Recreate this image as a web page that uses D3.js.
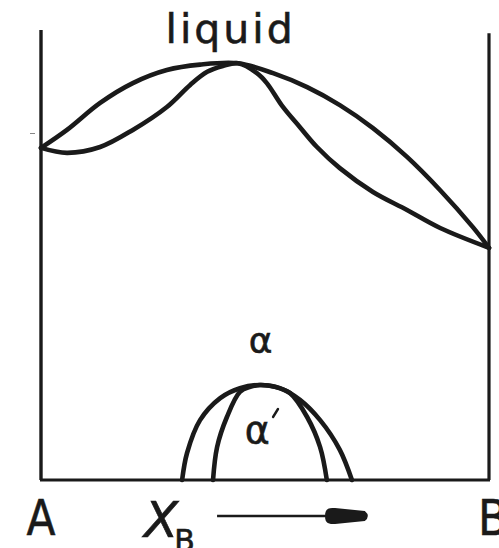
<!DOCTYPE html>
<html>
<head>
<meta charset="utf-8">
<script src="https://cdn.jsdelivr.net/npm/d3@7"></script>
<style>
  html, body { margin: 0; padding: 0; background: #ffffff; }
  svg { display: block; }
  text { font-family: "DejaVu Sans", sans-serif; fill: #1a1a1a; stroke: #1a1a1a; stroke-width: 0.6px; }
</style>
</head>
<body>
<svg id="chart" width="499" height="548"></svg>
<script>
// Binary phase diagram A–B: liquidus/solidus lens with a congruent maximum,
// and an ordering dome (α → α′) at low temperature.

// composition X_B (0 = pure A, 1 = pure B) and temperature (arbitrary units)
const liquidusX = [0.000, 0.058, 0.132, 0.205, 0.281, 0.355, 0.440, 0.518, 0.594, 0.667, 0.741, 0.817, 0.891, 0.964, 1.000];
const liquidusT = [73.8, 77.8, 83.8, 88.2, 91.1, 92.3, 92.6, 90.4, 87.3, 83.3, 78.2, 71.8, 64.4, 56.2, 51.6];

const solidusX = [0.000, 0.058, 0.132, 0.205, 0.281, 0.333, 0.371, 0.406, 0.440, 0.482, 0.504, 0.540, 0.578, 0.616, 0.667, 0.741, 0.817, 0.891, 1.000];
const solidusT = [73.8, 72.7, 74.0, 77.8, 82.9, 87.8, 90.7, 92.0, 92.6, 90.4, 88.2, 82.9, 78.4, 74.0, 69.3, 64.0, 60.0, 56.0, 51.6];

const domeOuterX = [0.315, 0.326, 0.355, 0.400, 0.444, 0.489, 0.533, 0.578, 0.623, 0.667, 0.694];
const domeOuterT = [0.0, 6.0, 13.3, 18.2, 20.4, 21.1, 20.4, 17.8, 13.3, 6.7, 0.0];

const domeInnerX = [0.384, 0.393, 0.415, 0.444, 0.467, 0.489, 0.522, 0.556, 0.594, 0.623, 0.638];
const domeInnerT = [0.0, 7.3, 14.0, 19.6, 20.7, 21.1, 20.7, 19.3, 14.0, 7.3, 0.0];

const endLabels = ["A", "B"];
const phaseLabels = ["liquid", "α", "α"];

const svg = d3.select("#chart");
const ink = "#1a1a1a";

const x = d3.scaleLinear().domain([0, 1]).range([41, 489]);
const y = d3.scaleLinear().domain([0, 100]).range([480, 30]);

const line = d3.line()
  .x(d => x(d[0]))
  .y(d => y(d[1]))
  .curve(d3.curveCatmullRom.alpha(0.5));

const zip = (a, b) => a.map((v, i) => [v, b[i]]);

// frame: pure-component verticals and the base line
svg.append("line")
  .attr("x1", x(0)).attr("x2", x(0))
  .attr("y1", y(100)).attr("y2", y(0))
  .attr("stroke", ink).attr("stroke-width", 3.4);
svg.append("line")
  .attr("x1", x(1)).attr("x2", x(1))
  .attr("y1", y(99.3)).attr("y2", y(0))
  .attr("stroke", ink).attr("stroke-width", 3.2);
svg.append("line")
  .attr("x1", x(0) - 1).attr("x2", x(1) + 1)
  .attr("y1", y(0)).attr("y2", y(0))
  .attr("stroke", ink).attr("stroke-width", 3.2);

// small reference tick beside the A axis
svg.append("line")
  .attr("x1", x(0) - 11).attr("x2", x(0) - 6)
  .attr("y1", y(77)).attr("y2", y(77))
  .attr("stroke", "#888").attr("stroke-width", 1);

const curves = [
  zip(liquidusX, liquidusT),
  zip(solidusX, solidusT),
  zip(domeOuterX, domeOuterT),
  zip(domeInnerX, domeInnerT)
];

svg.selectAll("path.phase")
  .data(curves)
  .join("path")
  .attr("class", "phase")
  .attr("d", line)
  .attr("fill", "none")
  .attr("stroke", ink)
  .attr("stroke-width", 4.6)
  .attr("stroke-linecap", "round")
  .attr("stroke-linejoin", "round");

// phase labels
svg.append("text")
  .attr("x", x(0.420) + 1.5).attr("y", 43)
  .attr("text-anchor", "middle")
  .attr("font-size", 41)
  .attr("letter-spacing", 3)
  .text(phaseLabels[0]);

svg.append("text")
  .attr("x", x(0.490)).attr("y", 353)
  .attr("text-anchor", "middle")
  .attr("font-size", 36)
  .text(phaseLabels[1]);

svg.append("text")
  .attr("x", x(0.483)).attr("y", 443)
  .attr("text-anchor", "middle")
  .attr("font-size", 38)
  .text(phaseLabels[2]);
// prime mark on α′
svg.append("line")
  .attr("x1", x(0.518)).attr("y1", 417)
  .attr("x2", x(0.529)).attr("y2", 409)
  .attr("stroke", ink).attr("stroke-width", 2.4)
  .attr("stroke-linecap", "round");

// axis end labels
svg.append("text")
  .attr("x", 41).attr("y", 535)
  .attr("text-anchor", "middle")
  .attr("font-size", 50)
  .attr("textLength", 29).attr("lengthAdjust", "spacingAndGlyphs")
  .text(endLabels[0]);
svg.append("text")
  .attr("x", 478).attr("y", 535)
  .attr("font-size", 50)
  .attr("textLength", 30).attr("lengthAdjust", "spacingAndGlyphs")
  .text(endLabels[1]);

// composition label X_B with arrow
const xb = svg.append("text")
  .attr("x", 144).attr("y", 537)
  .attr("font-size", 50)
  .attr("font-style", "italic");
xb.append("tspan").text("X");
xb.append("tspan")
  .attr("font-size", 30).attr("font-style", "normal")
  .attr("dx", -4).attr("dy", 14)
  .text("B");

const ay = 516;
const a0 = x(0.393), a1 = x(0.634), aTip = x(0.734);
svg.append("line")
  .attr("x1", a0).attr("x2", a1 + 4)
  .attr("y1", ay).attr("y2", ay)
  .attr("stroke", ink).attr("stroke-width", 2.4);
svg.append("path")
  .attr("d", `M${a1},${ay} C${a1},${ay - 8} ${a1 + 4},${ay - 8} ${a1 + 10},${ay - 8}
              L${aTip - 5},${ay - 5} Q${aTip + 1},${ay} ${aTip - 5},${ay + 5}
              L${a1 + 10},${ay + 8} C${a1 + 4},${ay + 8} ${a1},${ay + 8} ${a1},${ay} Z`)
  .attr("fill", ink);
</script>
</body>
</html>
